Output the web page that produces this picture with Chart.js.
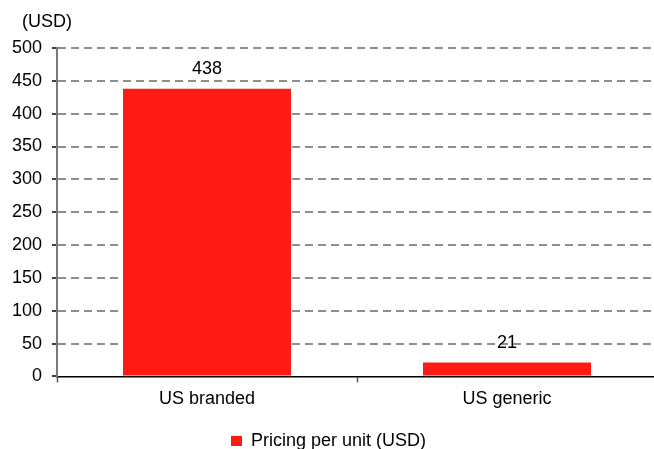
<!DOCTYPE html>
<html>
<head>
<meta charset="utf-8">
<script src="https://cdn.jsdelivr.net/npm/chart.js@4"></script>
<style>
  html, body { margin: 0; padding: 0; background: #fff; overflow: hidden; }
  #wrap { width: 660px; height: 449px; position: relative; }
</style>
</head>
<body>
<div id="wrap"><canvas id="c"></canvas></div>
<script>
// Unit price comparison, branded vs generic
const categories = ['US branded', 'US generic'];
const pricing = [438, 21];
const seriesLabel = 'Pricing per unit (USD)';
const unitLabel = '(USD)';
const yMin = 0, yMax = 500, yStep = 50;

const FONT = 'Liberation Sans, Arial, sans-serif';
const FSIZE = 18;

// Writes each bar's value above it
const valueLabels = {
  id: 'valueLabels',
  afterDatasetsDraw(chart) {
    const ctx = chart.ctx;
    ctx.save();
    ctx.font = FSIZE + 'px ' + FONT;
    ctx.fillStyle = '#000';
    ctx.textAlign = 'center';
    ctx.textBaseline = 'middle';
    chart.getDatasetMeta(0).data.forEach((bar, i) => {
      ctx.fillText(String(pricing[i]), bar.x, bar.y - 20);
    });
    ctx.restore();
  }
};

// Unit caption above the value axis
const unitCaption = {
  id: 'unitCaption',
  afterDraw(chart) {
    const ctx = chart.ctx;
    ctx.save();
    ctx.font = FSIZE + 'px ' + FONT;
    ctx.fillStyle = '#000';
    ctx.textAlign = 'left';
    ctx.textBaseline = 'middle';
    ctx.fillText(unitLabel, chart.chartArea.left - 35, chart.chartArea.top - 26);
    ctx.restore();
  }
};

new Chart(document.getElementById('c'), {
  type: 'bar',
  data: {
    labels: categories,
    datasets: [{
      label: seriesLabel,
      data: pricing,
      backgroundColor: '#ff1a14',
      borderWidth: 0,
      categoryPercentage: 1,
      barPercentage: 0.56
    }]
  },
  options: {
    responsive: true,
    maintainAspectRatio: false,
    animation: false,
    layout: { padding: { left: 0, right: 3, top: 48, bottom: -11 } },
    plugins: {
      legend: {
        position: 'bottom',
        labels: {
          boxWidth: 11,
          boxHeight: 10,
          color: '#000',
          font: { family: FONT, size: FSIZE },
          padding: 0
        }
      },
      tooltip: { enabled: false }
    },
    scales: {
      x: {
        afterFit(scale) { scale.height += 16; },
        grid: {
          display: true,
          drawOnChartArea: false,
          drawTicks: true,
          tickLength: 6,
          tickColor: '#555',
          tickWidth: 1.5,
          offset: true
        },
        border: { display: true, color: '#000', width: 1.5 },
        ticks: {
          color: '#000',
          font: { family: FONT, size: FSIZE },
          padding: 6
        }
      },
      y: {
        min: yMin,
        max: yMax,
        afterFit(scale) { scale.width = 57; },
        ticks: {
          stepSize: yStep,
          color: '#000',
          font: { family: FONT, size: FSIZE },
          padding: 10
        },
        grid: {
          color: (c) => (c.tick && c.tick.value === 0 ? 'rgba(0,0,0,0)' : '#8e8e8e'),
          lineWidth: 2,
          tickLength: 5,
          tickColor: '#000',
          tickWidth: 1.5,
          tickBorderDash: []
        },
        border: { display: true, color: '#7a7a7a', width: 2, dash: [8, 5] }
      }
    }
  },
  plugins: [valueLabels, unitCaption]
});
</script>
</body>
</html>
